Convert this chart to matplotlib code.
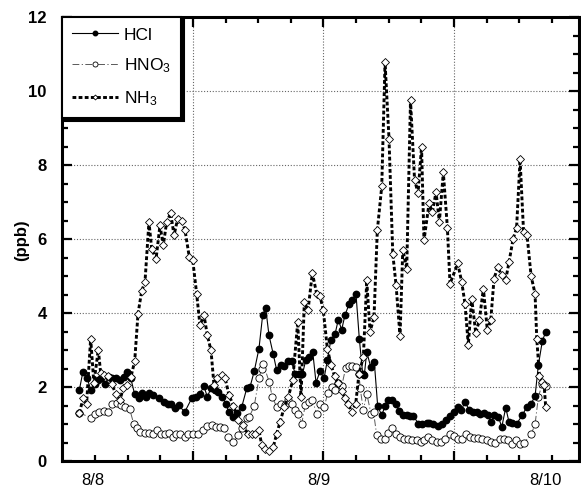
import matplotlib
matplotlib.use('Agg')
import numpy as np
import matplotlib.pyplot as plt
import matplotlib.transforms as mtransforms

plt.rcParams['font.family'] = ['Liberation Sans', 'DejaVu Sans']
plt.rcParams['mathtext.fontset'] = 'custom'
plt.rcParams['mathtext.rm'] = 'Liberation Sans'
plt.rcParams['mathtext.it'] = 'Liberation Sans:italic'
plt.rcParams['mathtext.bf'] = 'Liberation Sans:bold'

# ---------------- data (time in hours since 8/8 00:00, concentrations in ppb) ----
hcl_t = [-1.40, -1.01, -0.58, -0.16, 0.23, 0.58, 0.93, 1.36, 1.72, 2.07, 2.49, 2.95,
         3.31, 3.69, 4.05, 4.48, 4.90, 5.25, 5.68, 6.03, 6.45, 7.02, 7.55, 8.01, 8.36,
         8.78, 9.14, 9.78, 10.52, 10.98, 11.40, 11.83, 12.18, 12.57, 12.99, 13.34,
         13.77, 14.13, 14.48, 14.94, 15.30, 15.83, 16.36, 16.71, 17.16, 17.66, 18.05,
         18.37, 18.72, 19.18, 19.54, 20.00, 20.35, 20.71, 21.13, 21.48, 21.91, 22.26,
         22.62, 23.00, 23.36, 23.71, 24.13, 24.56, 24.91, 25.27, 25.72, 26.07, 26.43,
         26.78, 27.21, 27.56, 27.95, 28.30, 28.66, 28.83, 29.09, 29.51, 29.89, 30.25,
         30.68, 31.03, 31.38, 31.80, 32.16, 32.55, 32.91, 33.33, 33.68, 34.03, 34.56,
         34.98, 35.45, 35.73, 36.15, 36.68, 37.11, 37.50, 37.92, 38.35, 38.74, 39.09,
         39.51, 39.94, 40.33, 40.76, 41.11, 41.53, 41.92, 42.27, 42.62, 43.05, 43.41,
         43.83, 44.18, 44.53, 45.00, 45.59, 46.06, 46.52, 46.94, 47.29, 47.71, 48.07]
hcl_v = [1.91, 2.41, 2.25, 1.91, 2.07, 2.20, 2.25, 2.09, 2.27, 2.23, 2.23, 2.18,
         2.27, 2.41, 2.25, 1.80, 1.71, 1.84, 1.73, 1.84, 1.78, 1.71, 1.59, 1.55, 1.55,
         1.42, 1.51, 1.32, 1.69, 1.73, 1.82, 2.02, 1.73, 1.97, 1.91, 1.86,
         1.73, 1.55, 1.32, 1.19, 1.30, 1.46, 1.96, 2.00, 2.43, 3.04, 3.94,
         4.14, 3.40, 2.88, 2.45, 2.59, 2.56, 2.70, 2.70, 2.36, 2.34, 2.34,
         2.72, 2.81, 2.95, 2.12, 2.42, 2.23, 2.72, 3.26, 3.42, 3.82, 3.55,
         3.94, 4.24, 4.34, 4.51, 3.31, 2.36, 2.32, 2.95, 2.54, 2.68, 1.48,
         1.24, 1.48, 1.66, 1.66, 1.53, 1.35, 1.25, 1.24, 1.22, 1.22, 1.01,
         0.99, 1.04, 1.03, 0.99, 0.95, 1.01, 1.10, 1.21, 1.32, 1.46, 1.37,
         1.59, 1.39, 1.32, 1.32, 1.28, 1.30, 1.25, 1.05, 1.24, 1.19, 0.92,
         1.44, 1.05, 1.03, 1.01, 1.24, 1.46, 1.55, 1.75, 2.59, 3.24, 3.49]

hno3_t = [-1.40, -0.13, 0.30, 0.72, 1.19, 1.64, 2.07, 2.60, 3.06, 3.48, 3.95, 4.37,
          4.72, 5.07, 5.54, 5.96, 6.39, 6.84, 7.27, 7.72, 8.08, 8.51, 8.89, 9.31, 9.78,
          10.13, 10.69, 11.22, 11.75, 12.18, 12.64, 13.07, 13.53, 13.95, 14.41, 14.94,
          15.40, 15.83, 16.36, 16.63, 17.16, 17.66, 17.94, 18.11, 18.75, 19.07, 19.54,
          19.96, 20.42, 20.77, 21.11, 21.48, 21.83, 22.19, 22.57, 22.97, 23.32, 23.78,
          24.13, 24.59, 24.95, 25.37, 25.72, 26.07, 26.43, 26.86, 27.21, 27.56, 27.92,
          28.27, 28.40, 28.73, 29.09, 29.54, 29.81, 30.15, 30.60, 31.03, 31.38, 31.80,
          32.16, 32.62, 33.04, 33.50, 33.92, 34.39, 34.82, 35.20, 35.62, 36.05, 36.51,
          36.97, 37.39, 37.92, 38.38, 38.80, 39.16, 39.59, 40.04, 40.50, 40.93, 41.35,
          41.82, 42.24, 42.70, 43.23, 43.65, 44.11, 44.53, 44.92, 45.35, 45.77, 46.52,
          46.94, 47.29, 47.71, 48.07]
hno3_v = [1.30, 1.17, 1.26, 1.32, 1.35, 1.32, 1.53, 1.57, 1.51, 1.46, 1.40, 1.01,
          0.88, 0.78, 0.76, 0.76, 0.72, 0.83, 0.74, 0.74, 0.76, 0.65, 0.74, 0.74, 0.65,
          0.74, 0.74, 0.72, 0.83, 0.95, 0.96, 0.93, 0.93, 0.88, 0.65, 0.51,
          0.69, 0.88, 1.17, 1.19, 1.49, 2.23, 2.50, 2.63, 2.13, 1.73, 1.46,
          1.55, 1.51, 1.64, 1.53, 1.37, 1.28, 1.01, 1.51, 1.59, 1.64, 1.28,
          1.55, 1.46, 1.84, 2.00, 1.91, 2.10, 2.02, 2.52, 2.56, 2.56, 2.54,
          2.36, 1.96, 1.37, 1.82, 1.28, 1.32, 0.69, 0.60, 0.60, 0.76, 0.90,
          0.74, 0.65, 0.60, 0.59, 0.56, 0.56, 0.51, 0.56, 0.65, 0.56, 0.51,
          0.51, 0.60, 0.74, 0.67, 0.59, 0.60, 0.72, 0.65, 0.63, 0.63, 0.60,
          0.58, 0.51, 0.49, 0.60, 0.60, 0.56, 0.47, 0.56, 0.45, 0.49, 0.72,
          0.99, 1.73, 2.09, 2.02]

nh3_t = [-1.40, -0.98, -0.62, -0.19, 0.15, 0.62, 0.87, 1.22, 1.68, 2.04, 2.49, 2.92,
         3.27, 3.69, 4.08, 4.48, 4.83, 5.22, 5.57, 5.99, 6.28, 6.74, 7.16, 7.51, 7.87,
         8.30, 8.65, 9.04, 9.46, 9.81, 10.27, 10.63, 11.05, 11.40, 11.83, 12.18, 12.57,
         12.89, 13.26, 13.71, 14.06, 14.48, 14.94, 15.47, 16.00, 16.50, 16.89, 17.24,
         17.66, 17.95, 18.30, 18.75, 19.18, 19.54, 19.89, 20.35, 20.77, 21.24, 21.77,
         22.12, 22.47, 22.86, 23.32, 23.78, 24.13, 24.48, 24.91, 25.30, 25.67, 26.04,
         26.43, 26.78, 27.13, 27.50, 27.92, 28.27, 28.73, 29.09, 29.44, 29.86, 30.21,
         30.68, 31.03, 31.45, 31.85, 32.20, 32.62, 32.91, 33.33, 33.73, 34.16, 34.53,
         34.90, 35.16, 35.70, 36.05, 36.44, 36.79, 37.21, 37.64, 37.92, 38.74, 39.16,
         39.51, 39.86, 40.22, 40.65, 41.03, 41.46, 41.88, 42.24, 42.59, 42.98, 43.41,
         43.83, 44.18, 44.61, 44.98, 45.35, 45.72, 46.09, 46.52, 46.94, 47.12, 47.40,
         47.66, 47.90, 48.07]
nh3_v = [1.30, 1.69, 1.55, 3.31, 2.10, 3.01, 2.38, 2.32, 2.29, 2.09, 1.80, 1.66,
         1.96, 2.05, 2.27, 2.70, 3.98, 4.59, 4.84, 6.46, 5.74, 5.45, 6.37, 5.83, 6.46,
         6.70, 6.10, 6.55, 6.49, 6.25, 5.51, 5.44, 4.52, 3.67, 3.94, 3.40, 2.99,
         2.05, 2.25, 2.32, 2.25, 1.78, 1.50, 1.10, 0.96, 0.72, 0.74, 0.74,
         0.83, 0.43, 0.33, 0.27, 0.38, 0.74, 1.05, 1.46, 1.73, 2.18, 3.76,
         1.73, 4.30, 4.07, 5.08, 4.52, 4.47, 4.07, 3.04, 2.60, 2.30, 2.10,
         1.90, 1.70, 1.55, 1.32, 1.55, 2.36, 2.81, 4.88, 3.49, 3.89, 6.23,
         7.42, 10.78, 8.71, 5.60, 4.75, 3.37, 5.71, 5.20, 9.75, 7.60, 7.24,
         8.49, 5.96, 6.97, 6.73, 7.27, 6.46, 7.80, 6.31, 4.79, 5.34, 4.84,
         4.25, 3.13, 4.39, 3.46, 3.80, 4.66, 3.53, 3.80, 4.93, 5.24, 5.02,
         4.90, 5.38, 6.00, 6.30, 8.15, 6.20, 6.10, 5.00, 4.52, 3.31, 2.31,
         2.13, 2.05, 1.46]

day_labels = ['8/8', '8/9', '8/10']
day_hours = [0, 24, 48]
y_major = [0, 2, 4, 6, 8, 10, 12]
series_names = ['HCl', r'HNO$_3$', r'NH$_3$']

# ---------------- figure ----------------
W, H = 581, 488
fig = plt.figure(figsize=(W / 100, H / 100), dpi=100)
ax = fig.add_axes([62 / W, 27 / H, 517 / W, 444 / H])

hno3_line, = ax.plot(hno3_t, hno3_v, color='0.35', lw=0.7, linestyle=(0, (7, 2.5, 1.2, 2.5)),
                     marker='o', ms=5.2, mfc='white', mec='black', mew=0.6, zorder=3)
hcl_line, = ax.plot(hcl_t, hcl_v, color='black', lw=0.8, linestyle='-',
                    marker='o', ms=4.6, mfc='black', mec='black', zorder=4)
nh3_line, = ax.plot(nh3_t, nh3_v, color='black', lw=2.1, linestyle=(0, (1.3, 0.8)),
                    marker='D', ms=3.6, mfc='white', mec='black', mew=0.6, zorder=5)

# axes limits and ticks
ax.set_xlim(-3.23, 51.6)
ax.set_ylim(0, 12)
major_x = [10.66 + 13.84 * k for k in range(0, 3)]
minor_x = [v for v in np.arange(-3.18, 51.6, 3.46)
           if min(abs(v - m) for m in major_x) > 0.5 and v > -3.0]
ax.set_xticks(major_x)
ax.set_xticks(minor_x, minor=True)
ax.set_yticks(y_major)
ax.set_yticks(np.arange(0, 12.01, 0.5), minor=True)
ax.set_yticklabels([str(v) for v in y_major], fontweight='bold', fontsize=12)
ax.tick_params(axis='x', which='both', labelbottom=False)
ax.tick_params(which='both', direction='in', top=True, right=True, width=1.6, color='black')
ax.tick_params(which='major', length=7)
ax.tick_params(which='minor', length=4)
ax.tick_params(axis='y', which='major', pad=11)

for s in ax.spines.values():
    s.set_linewidth(2.2)
    s.set_color('black')

ax.grid(True, which='major', linestyle=(0, (1, 1.6)), color='0.4', lw=0.8)
ax.set_axisbelow(True)

trans = mtransforms.blended_transform_factory(ax.transData, ax.transAxes)
for h, lab in zip(day_hours, day_labels):
    ax.text(h, -0.045, lab, transform=trans, ha='center', va='center', fontsize=12)

fig.text(22 / W, 1 - 240 / H, '(ppb)', rotation=90, ha='center', va='center',
         fontsize=12, fontweight='bold')

leg = ax.legend([hcl_line, hno3_line, nh3_line], series_names, loc='upper left',
                bbox_to_anchor=(0, 1), borderaxespad=0, fancybox=False, framealpha=1,
                edgecolor='black', fontsize=12.5, handlelength=2.6, handletextpad=0.35,
                labelspacing=0.8, borderpad=0.6, markerscale=0.7,
                shadow={'color': 'black', 'alpha': 1})
leg.get_frame().set_linewidth(1.5)
leg.set_zorder(10)

fig.savefig('out.png', dpi=100)
